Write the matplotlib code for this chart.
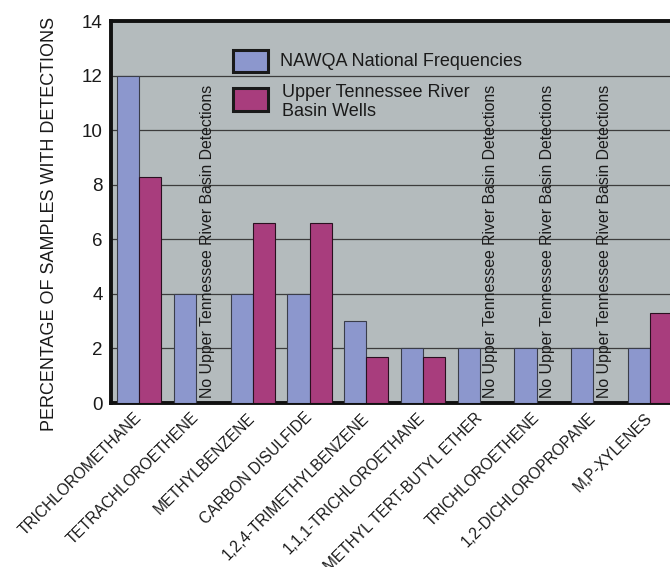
import numpy as np
import matplotlib
matplotlib.use("Agg")
import matplotlib.pyplot as plt
from matplotlib.patches import Rectangle

plt.rcParams['font.family'] = ['Liberation Sans', 'DejaVu Sans']

# Volatile organic compounds, percentage of samples with detections
compounds = [
    "TRICHLOROMETHANE", "TETRACHLOROETHENE", "METHYLBENZENE",
    "CARBON DISULFIDE", "1,2,4-TRIMETHYLBENZENE", "1,1,1-TRICHLOROETHANE",
    "METHYL TERT-BUTYL ETHER", "TRICHLOROETHENE", "1,2-DICHLOROPROPANE",
    "M,P-XYLENES",
]
national = [12, 4, 4, 4, 3, 2, 2, 2, 2, 2]
# None marks compounds not detected in the basin wells
basin = [8.3, None, 6.6, 6.6, 1.7, 1.7, None, None, None, 3.3]

series_labels = ["NAWQA National Frequencies", "Upper Tennessee River\nBasin Wells"]
no_detect_text = "No Upper Tennessee River Basin Detections"
y_ticks = [0, 2, 4, 6, 8, 10, 12, 14]
y_title = "PERCENTAGE OF SAMPLES WITH DETECTIONS"

blue = "#8c97cd"
magenta = "#a83d7d"
panel = "#b4bbbd"

fig = plt.figure(figsize=(6.70, 5.67), dpi=100)
ax = fig.add_axes([111 / 670, 164 / 567, 567 / 670, 382 / 567])
ax.set_facecolor(panel)

x = np.arange(len(compounds))
w = 0.39

ax.bar(x - w / 2, national, width=w, color=blue, edgecolor="#3a3d4a",
       linewidth=0.8, zorder=3)
for xi, v in zip(x, basin):
    if v is None:
        ax.text(xi + w / 2, 0.18, no_detect_text, rotation=90, ha="center",
                va="bottom", fontsize=11.4, color="#1a1a1a", zorder=4)
    else:
        ax.bar(xi + w / 2, v, width=w, color=magenta, edgecolor="#2a1020",
               linewidth=0.8, zorder=3)

ax.set_xlim(-0.496, 9.49)
ax.set_ylim(0, 14)
ax.set_yticks(y_ticks)
ax.set_yticklabels([str(t) for t in y_ticks], fontsize=13.5, color="#1a1a1a")
ax.tick_params(axis="y", length=0, pad=6)
ax.set_xticks(x)
ax.set_xticklabels(compounds, rotation=45, ha="right", va="center",
                   rotation_mode="anchor", fontsize=11.2, color="#1a1a1a")
ax.tick_params(axis="x", length=0, pad=9)

ax.yaxis.grid(True, color="#3c3c3c", linewidth=0.9, zorder=1)
ax.set_axisbelow(True)

for side in ("left", "top", "bottom"):
    ax.spines[side].set_linewidth(2.8)
    ax.spines[side].set_color("#111111")
ax.spines["right"].set_visible(False)

# Legend keys and labels
ax.add_patch(Rectangle((0.215, 0.8665), 0.0617, 0.0576, transform=ax.transAxes,
                       facecolor=blue, edgecolor="#1a1a1a", linewidth=2.2,
                       zorder=5, clip_on=False))
ax.add_patch(Rectangle((0.215, 0.7644), 0.0617, 0.0602, transform=ax.transAxes,
                       facecolor=magenta, edgecolor="#1a1a1a", linewidth=2.2,
                       zorder=5, clip_on=False))
ax.text(0.298, 0.8927, series_labels[0], transform=ax.transAxes, ha="left",
        va="center", fontsize=13, color="#1a1a1a", zorder=5)
ax.text(0.302, 0.788, series_labels[1], transform=ax.transAxes, ha="left",
        va="center", fontsize=13, color="#1a1a1a", linespacing=1.1, zorder=5)

fig.text(50 / 670, 1 - 223.5 / 567, y_title, rotation=90, ha="center",
         va="center", fontsize=13, color="#1a1a1a")

fig.savefig("out.png", dpi=100)
